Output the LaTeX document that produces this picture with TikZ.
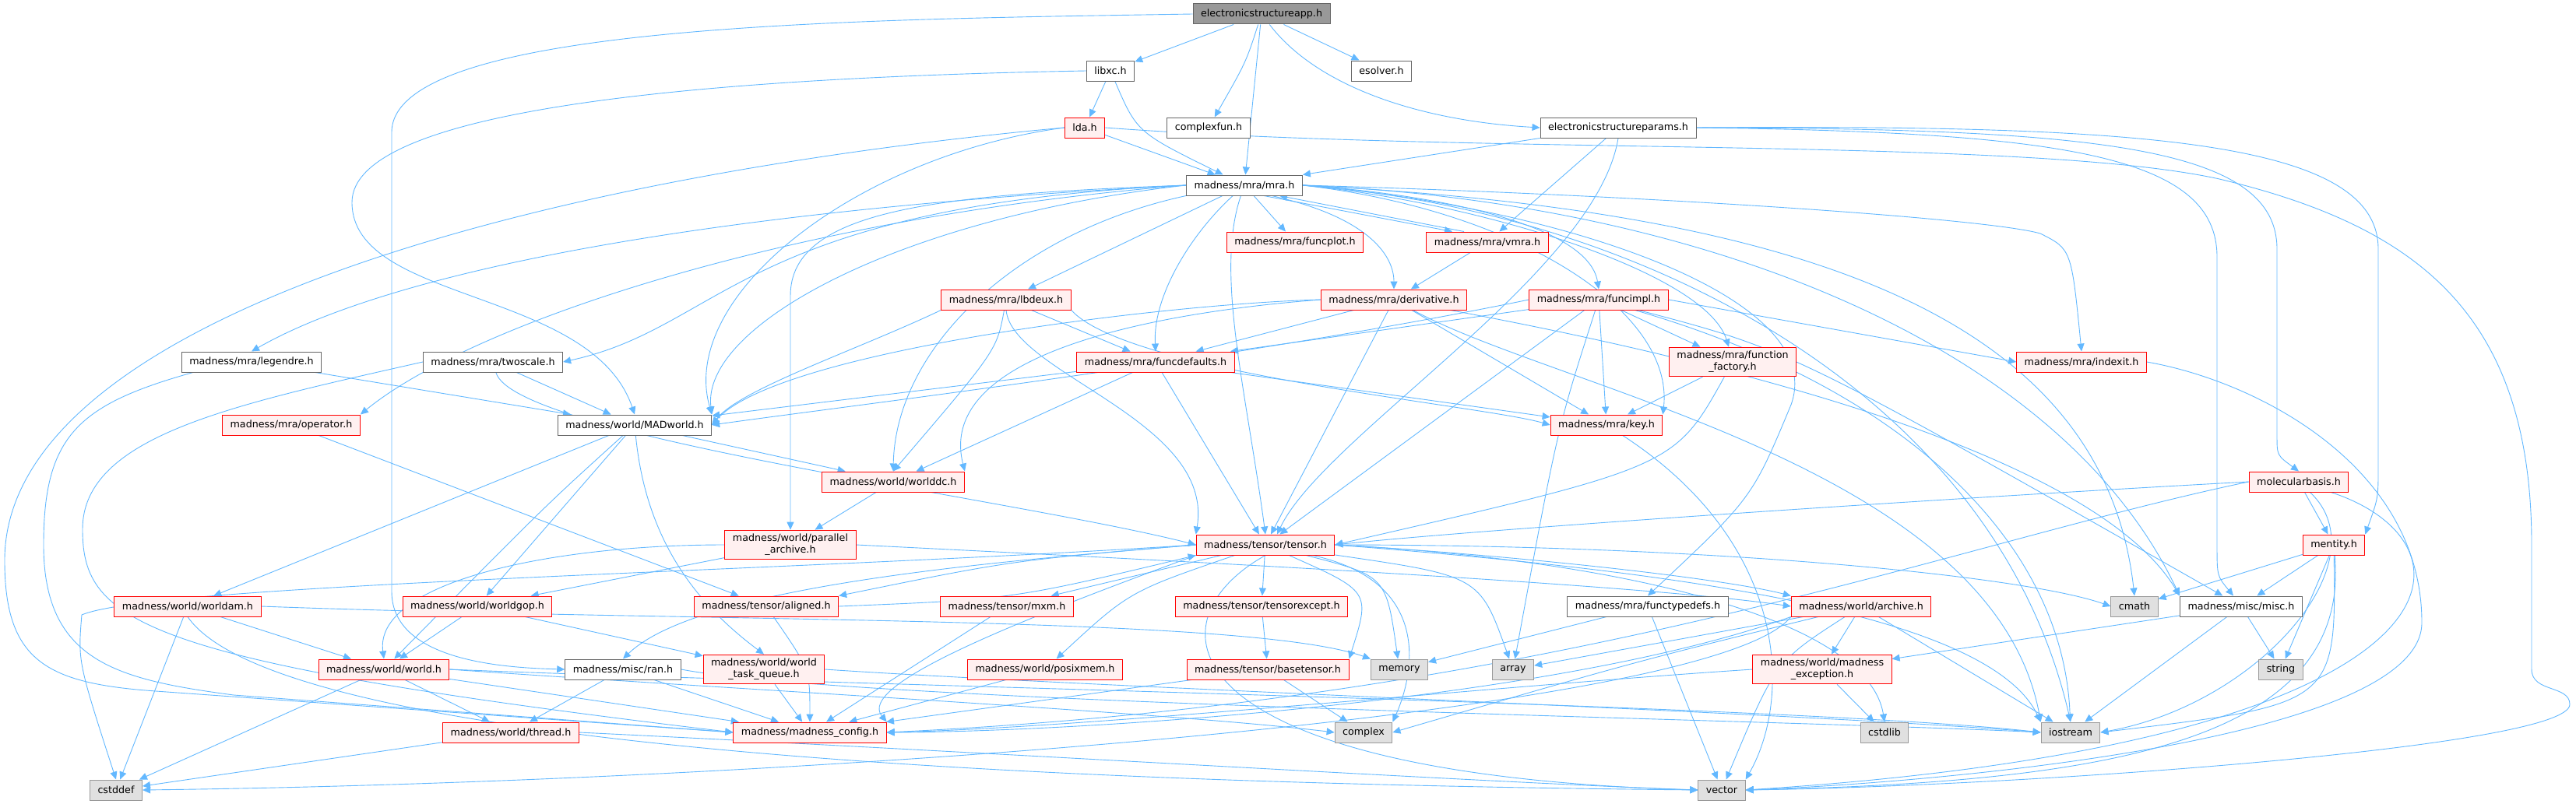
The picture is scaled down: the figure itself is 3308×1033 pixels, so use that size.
\documentclass[tikz,border=0pt]{standalone}
\usepackage{fontspec}
\setmainfont{DejaVu Sans}
\usetikzlibrary{arrows.meta,backgrounds}

\definecolor{inclblue}{HTML}{63B8FF}
\definecolor{truncpink}{HTML}{FFF0F0}
\definecolor{sysgray}{HTML}{E0E0E0}

\tikzset{
  hdr/.style={draw=black!60, fill=white, line width=1pt, minimum height=26pt,
    inner xsep=10pt, inner ysep=5pt, align=center,
    font=\fontsize{12.7}{15}\selectfont},
  hdrroot/.style={hdr, fill=black!40},
  hdrtrunc/.style={hdr, draw=red, fill=truncpink},
  hdrsys/.style={hdr, draw=black!40, fill=sysgray},
  incl/.style={draw=inclblue, line width=0.9pt, ->},
}

\begin{document}
\begin{tikzpicture}[x=1pt, y=-1pt, >={Triangle[length=10pt,width=9pt]}]
    \useasboundingbox (0,0) rectangle (3308,1033);

    % Files
    \node[hdrroot]  (esapp)        at (1620,18)   {electronicstructureapp.h};
    \node[hdr]      (libxc)        at (1426,91)   {libxc.h};
    \node[hdr]      (esolver)      at (1774,91)   {esolver.h};
    \node[hdrtrunc] (lda)          at (1393,164)  {lda.h};
    \node[hdr]      (complexfun)   at (1552,164)  {complexfun.h};
    \node[hdr]      (esparams)     at (2078,164)  {electronicstructureparams.h};
    \node[hdr]      (mra)          at (1598,238)  {madness/mra/mra.h};
    \node[hdrtrunc] (funcplot)     at (1663,311)  {madness/mra/funcplot.h};
    \node[hdrtrunc] (vmra)         at (1910,311)  {madness/mra/vmra.h};
    \node[hdrtrunc] (lbdeux)       at (1292,385)  {madness/mra/lbdeux.h};
    \node[hdrtrunc] (derivative)   at (1790,385)  {madness/mra/derivative.h};
    \node[hdrtrunc] (funcimpl)     at (2053,385)  {madness/mra/funcimpl.h};
    \node[hdr]      (legendre)     at (323,465)   {madness/mra/legendre.h};
    \node[hdr]      (twoscale)     at (633,465)   {madness/mra/twoscale.h};
    \node[hdrtrunc] (funcdefaults) at (1484,465)  {madness/mra/funcdefaults.h};
    \node[hdrtrunc] (funcfactory)  at (2225,465)  {madness/mra/function\\\_factory.h};
    \node[hdrtrunc] (indexit)      at (2673,465)  {madness/mra/indexit.h};
    \node[hdrtrunc] (operator)     at (374,546)   {madness/mra/operator.h};
    \node[hdr]      (madworld)     at (815,546)   {madness/world/MADworld.h};
    \node[hdrtrunc] (key)          at (2063,546)  {madness/mra/key.h};
    \node[hdrtrunc] (worlddc)      at (1147,619)  {madness/world/worlddc.h};
    \node[hdrtrunc] (molbasis)     at (2952,619)  {molecularbasis.h};
    \node[hdrtrunc] (parchive)     at (1015,700)  {madness/world/parallel\\\_archive.h};
    \node[hdrtrunc] (tensor)       at (1625,700)  {madness/tensor/tensor.h};
    \node[hdrtrunc] (mentity)      at (2997,700)  {mentity.h};
    \node[hdrtrunc] (worldam)      at (241,779)   {madness/world/worldam.h};
    \node[hdrtrunc] (worldgop)     at (613,779)   {madness/world/worldgop.h};
    \node[hdrtrunc] (aligned)      at (984,779)   {madness/tensor/aligned.h};
    \node[hdrtrunc] (mxm)          at (1293,779)  {madness/tensor/mxm.h};
    \node[hdrtrunc] (tensorexcept) at (1620,779)  {madness/tensor/tensorexcept.h};
    \node[hdr]      (functypedefs) at (2116,779)  {madness/mra/functypedefs.h};
    \node[hdrtrunc] (archive)      at (2390,779)  {madness/world/archive.h};
    \node[hdrsys]   (cmath)        at (2741,779)  {cmath};
    \node[hdr]      (misc)         at (2878,779)  {madness/misc/misc.h};
    \node[hdrtrunc] (world)        at (493,860)   {madness/world/world.h};
    \node[hdr]      (ran)          at (800,860)   {madness/misc/ran.h};
    \node[hdrtrunc] (taskqueue)    at (981,860)   {madness/world/world\\\_task\_queue.h};
    \node[hdrtrunc] (posixmem)     at (1342,860)  {madness/world/posixmem.h};
    \node[hdrtrunc] (basetensor)   at (1628,860)  {madness/tensor/basetensor.h};
    \node[hdrsys]   (memory)       at (1797,860)  {memory};
    \node[hdrsys]   (array)        at (1943,860)  {array};
    \node[hdrtrunc] (madexcept)    at (2340,860)  {madness/world/madness\\\_exception.h};
    \node[hdrsys]   (string)       at (2929,860)  {string};
    \node[hdrtrunc] (thread)       at (656,941)   {madness/world/thread.h};
    \node[hdrtrunc] (config)       at (1040,941)  {madness/madness\_config.h};
    \node[hdrsys]   (complex)      at (1751,941)  {complex};
    \node[hdrsys]   (cstdlib)      at (2420,941)  {cstdlib};
    \node[hdrsys]   (iostream)     at (2659,941)  {iostream};
    \node[hdrsys]   (cstddef)      at (149,1015)  {cstddef};
    \node[hdrsys]   (vector)       at (2211,1015) {vector};

    % Includes
    \begin{scope}[on background layer]
    % app
    \draw[incl] (esapp) -- (libxc);
    \draw[incl] (esapp) -- (esolver);
    \draw[incl] (esapp) .. controls (1600,80) .. (complexfun);
    \draw[incl] (esapp) -- (mra);
    \draw[incl] (esapp) .. controls (1690,110) and (1820,155) .. (esparams.west);
    \draw[incl] (esapp.west) .. controls (1100,25) and (503,30) .. (503,170) -- (503,760) .. controls (503,850) and (650,858) .. (ran.west);
    % libxc, lda
    \draw[incl] (libxc) -- (lda);
    \draw[incl] (libxc) .. controls (1460,170) .. (mra);
    \draw[incl] (libxc.west) .. controls (900,100) and (452,140) .. (452,260) .. controls (452,390) and (760,370) .. (madworld.north);
    \draw[incl] (lda) -- (mra);
    \draw[incl] (lda.west) .. controls (650,230) and (6,420) .. (6,720) .. controls (6,850) and (60,878) .. (200,888) -- (config.west);
    \draw[incl] (lda.west) .. controls (1100,200) and (870,380) .. (madworld.north east);
    \draw[incl] (lda.east) .. controls (1900,200) and (2600,175) .. (2850,230) .. controls (3100,290) and (3251,400) .. (3251,700) -- (3251,860) .. controls (3251,890) and (3300,880) .. (3300,905) .. controls (3300,960) and (2600,1010) .. (vector.east);
    % params
    \draw[incl] (esparams.south west) -- (mra.north east);
    \draw[incl] (esparams) -- (vmra);
    \draw[incl] (esparams.south) .. controls (2050,350) and (1700,560) .. ([xshift=15pt]tensor.north);
    \draw[incl] (esparams.east) .. controls (2650,170) and (2847,200) .. (2847,330) -- (2847,700) .. controls (2847,740) .. ([xshift=-10pt]misc.north);
    \draw[incl] (esparams.east) .. controls (2700,165) and (2924,190) .. (2924,320) -- (2924,560) .. controls (2924,585) .. (molbasis.north);
    \draw[incl] (esparams.east) .. controls (2750,160) and (3054,180) .. (3054,320) -- (3054,600) .. controls (3054,640) .. (mentity.north east);
    % mra
    \draw[incl] (mra.west) .. controls (900,270) and (500,350) .. (legendre.north);
    \draw[incl] (mra.west) .. controls (950,265) and (930,420) .. (twoscale.east);
    \draw[incl] (mra.west) .. controls (1000,280) and (600,420) .. (operator.north east);
    \draw[incl] (mra.west) .. controls (1150,280) and (900,420) .. (madworld.north east);
    \draw[incl] (mra.south west) .. controls (1300,300) and (1150,450) .. (worlddc.north);
    \draw[incl] (mra.west) .. controls (1200,250) and (1015,270) .. (1015,380) -- (parchive.north);
    \draw[incl] (mra) -- (lbdeux);
    \draw[incl] (mra) .. controls (1530,300) and (1480,380) .. (funcdefaults.north);
    \draw[incl] (mra) .. controls (1560,350) and (1600,500) .. (tensor.north);
    \draw[incl] (mra) -- (funcplot);
    \draw[incl] ([xshift=25pt]mra.south) -- ([xshift=-45pt]vmra.north);
    \draw[incl] ([xshift=-30pt]vmra.north) -- ([xshift=45pt]mra.south);
    \draw[incl] ([xshift=35pt]mra.south) .. controls (1760,280) and (1790,330) .. (derivative.north);
    \draw[incl] (mra.east) .. controls (1850,250) and (2040,290) .. (funcimpl.north);
    \draw[incl] (mra.east) .. controls (1900,260) and (2190,350) .. ([xshift=-5pt]funcfactory.north);
    \draw[incl] (mra.east) .. controls (2100,250) and (2550,280) .. (2620,300) .. controls (2660,320) .. (indexit.north);
    \draw[incl] (mra.east) .. controls (1950,270) and (2150,400) .. (key.north east);
    \draw[incl] (mra.east) .. controls (2000,265) and (2350,380) .. (2300,520) .. controls (2250,640) .. (functypedefs.north);
    \draw[incl] (mra.east) .. controls (2300,270) and (2700,400) .. (cmath.north);
    \draw[incl] (mra.east) .. controls (2200,260) and (2650,450) .. (misc.north west);
    \draw[incl] (mra.east) .. controls (2100,270) and (2560,500) .. (iostream.north);
    % vmra, lbdeux
    \draw[incl] (vmra) -- (derivative);
    \draw[incl] (lbdeux) -- (funcdefaults);
    \draw[incl] (lbdeux) .. controls (1280,450) .. (worlddc.north);
    \draw[incl] (lbdeux.south) .. controls (1300,480) and (1560,540) .. (tensor.north west);
    \draw[incl] (lbdeux.south east) .. controls (1450,480) and (1900,520) .. (key.west);
    \draw[incl] (lbdeux.south west) .. controls (1100,450) and (950,500) .. (madworld.east);
    % derivative
    \draw[incl] (derivative) -- (funcdefaults);
    \draw[incl] (derivative.west) .. controls (1500,390) and (1000,450) .. (madworld.east);
    \draw[incl] (derivative.west) .. controls (1500,400) and (1200,450) .. (worlddc.north east);
    \draw[incl] (derivative) -- (tensor);
    \draw[incl] (derivative) -- (key);
    \draw[incl] (derivative) .. controls (2300,480) and (2700,600) .. (misc.north west);
    \draw[incl] (derivative) .. controls (2000,500) and (2560,600) .. (iostream.north west);
    % funcimpl
    \draw[incl] (funcimpl) -- (funcdefaults);
    \draw[incl] (funcimpl) -- (funcfactory);
    \draw[incl] (funcimpl.east) -- (indexit.west);
    \draw[incl] (funcimpl.west) .. controls (1600,460) and (1100,520) .. (madworld.east);
    \draw[incl] (funcimpl) -- (tensor);
    \draw[incl] (funcimpl) -- (key);
    \draw[incl] (funcimpl) .. controls (2300,450) .. (misc);
    \draw[incl] (funcimpl) .. controls (2000,550) .. (array);
    \draw[incl] (funcimpl) .. controls (2450,500) and (2650,700) .. (iostream);
    % funcdefaults, function_factory, indexit
    \draw[incl] (funcdefaults) -- (madworld);
    \draw[incl] (funcdefaults) -- (worlddc);
    \draw[incl] (funcdefaults) -- (tensor);
    \draw[incl] (funcdefaults) -- (key);
    \draw[incl] (funcfactory) -- (key);
    \draw[incl] (funcfactory) .. controls (2150,600) .. (tensor.east);
    \draw[incl] (indexit.east) .. controls (2900,490) and (3110,600) .. (3110,800) .. controls (3110,950) and (2500,1005) .. (vector.east);
    % legendre, twoscale, operator
    \draw[incl] (legendre) -- (madworld);
    \draw[incl] ([xshift=15pt]legendre.south west) .. controls (100,520) and (56,560) .. (56,700) .. controls (56,850) and (150,873) .. (300,893) -- (config.west);
    \draw[incl] (twoscale) -- (madworld);
    \draw[incl] (twoscale) .. controls (660,560) and (1300,640) .. (tensor.west);
    \draw[incl] (twoscale.west) .. controls (300,520) and (106,560) .. (106,680) .. controls (106,800) and (180,850) .. (config.west);
    \draw[incl] (operator) -- (aligned);
    % MADworld
    \draw[incl] (madworld) -- (worldam);
    \draw[incl] (madworld) .. controls (700,650) .. (world);
    \draw[incl] (madworld) -- (worldgop);
    \draw[incl] (madworld) .. controls (830,700) and (900,780) .. (taskqueue.north);
    \draw[incl] (madworld) -- (worlddc);
    % key, worlddc, parallel archive
    \draw[incl] (key) .. controls (2300,700) and (2300,900) .. (vector.north east);
    \draw[incl] (worlddc) -- (parchive);
    \draw[incl] (parchive.west) .. controls (700,700) and (480,750) .. (world.north);
    \draw[incl] (parchive) -- (worldgop);
    \draw[incl] (parchive.east) .. controls (1500,720) and (2100,750) .. (archive.west);
    % tensor
    \draw[incl] (tensor.west) .. controls (1300,720) .. (aligned.north east);
    \draw[incl] (aligned.east) .. controls (1300,770) .. (tensor.south west);
    \draw[incl] (tensor) -- (mxm);
    \draw[incl] (tensor) -- (tensorexcept);
    \draw[incl] (tensor) .. controls (1450,760) .. (posixmem);
    \draw[incl] (tensor) .. controls (1760,760) .. (basetensor.north east);
    \draw[incl] (tensor) .. controls (1780,740) .. (memory);
    \draw[incl] (tensor) .. controls (1900,740) .. (array);
    \draw[incl] (tensor) .. controls (1850,750) and (1810,880) .. (complex.north east);
    \draw[incl] (tensor.east) .. controls (1900,710) and (2200,740) .. (archive.north west);
    \draw[incl] (tensor.east) .. controls (2100,720) and (2400,800) .. (cstdlib.north);
    \draw[incl] (tensor.east) .. controls (2200,700) and (2600,740) .. (cmath.west);
    \draw[incl] (tensor.east) .. controls (2100,730) and (2550,780) .. (iostream.north west);
    \draw[incl] (tensor.south) .. controls (1470,800) and (1500,995) .. (vector.west);
    \draw[incl] (tensor.west) .. controls (1300,720) and (900,750) .. (ran.north);
    \draw[incl] (tensor.south west) .. controls (1300,800) and (1100,880) .. (config.north east);
    \draw[incl] (tensor.west) .. controls (1000,735) and (200,750) .. (105,790) .. controls (100,850) .. (cstddef.north);
    % worldam, worldgop, aligned, mxm, posixmem, tensorexcept
    \draw[incl] (worldam) -- (world);
    \draw[incl] (worldam) -- (cstddef);
    \draw[incl] (worldam.south) .. controls (350,950) and (1200,1005) .. (vector.west);
    \draw[incl] (worldam.east) .. controls (900,800) and (1600,790) .. (memory.north west);
    \draw[incl] (worldgop) -- (world);
    \draw[incl] (worldgop) -- (taskqueue);
    \draw[incl] (aligned) .. controls (1040,860) .. (config);
    \draw[incl] (mxm) -- (config);
    \draw[incl] (posixmem) -- (config);
    \draw[incl] (tensorexcept) -- (basetensor);
    % functypedefs, archive, misc
    \draw[incl] (functypedefs) -- (memory);
    \draw[incl] (functypedefs) -- (vector);
    \draw[incl] (archive) -- (madexcept);
    \draw[incl] (archive) -- (iostream);
    \draw[incl] (archive) .. controls (2100,850) .. (complex.east);
    \draw[incl] (archive.south west) .. controls (2200,920) and (1000,1005) .. (cstddef.east);
    \draw[incl] (archive) .. controls (2280,850) .. (vector);
    \draw[incl] (archive) -- (array);
    \draw[incl] (archive.south west) .. controls (2000,900) and (1400,940) .. (config.east);
    \draw[incl] (misc) -- (madexcept);
    \draw[incl] (misc) -- (iostream);
    \draw[incl] (misc) -- (string);
    % world, ran, task queue
    \draw[incl] (world) -- (thread);
    \draw[incl] (world) -- (cstddef);
    \draw[incl] (world) -- (config);
    \draw[incl] (world.east) .. controls (900,883) and (1500,915) .. (complex.west);
    \draw[incl] (world.east) .. controls (1000,878) and (2300,905) .. (iostream.west);
    \draw[incl] (ran) -- (thread);
    \draw[incl] (ran) -- (config);
    \draw[incl] (ran.east) .. controls (1100,903) and (2300,925) .. (iostream.west);
    \draw[incl] (taskqueue) -- (config);
    \draw[incl] (taskqueue.east) .. controls (1400,883) and (2300,915) .. (iostream.west);
    % basetensor, madness_exception
    \draw[incl] (basetensor) -- (config);
    \draw[incl] (basetensor) -- (complex);
    \draw[incl] (madexcept) -- (cstdlib);
    \draw[incl] (madexcept.west) .. controls (1900,883) and (1400,935) .. (config.east);
    % molecularbasis, mentity
    \draw[incl] (molbasis.west) .. controls (2500,640) and (1900,680) .. (tensor.east);
    \draw[incl] (molbasis) -- (mentity);
    \draw[incl] (molbasis) .. controls (3060,720) and (2900,905) .. (iostream.east);
    \draw[incl] (molbasis) .. controls (3200,700) and (3180,955) .. (vector.east);
    \draw[incl] (molbasis.west) .. controls (2500,700) and (2000,900) .. (config.east);
    \draw[incl] (mentity) -- (cmath);
    \draw[incl] (mentity) -- (misc);
    \draw[incl] (mentity) -- (string);
    \draw[incl] (mentity) .. controls (3000,905) .. (iostream.east);
    \draw[incl] (mentity) .. controls (3020,955) and (2700,1005) .. (vector.east);
    % thread
    \draw[incl] (thread) -- (cstddef);
    \draw[incl] (thread.east) .. controls (1300,968) and (1900,1005) .. (vector.west);
    \end{scope}
\end{tikzpicture}
\end{document}
